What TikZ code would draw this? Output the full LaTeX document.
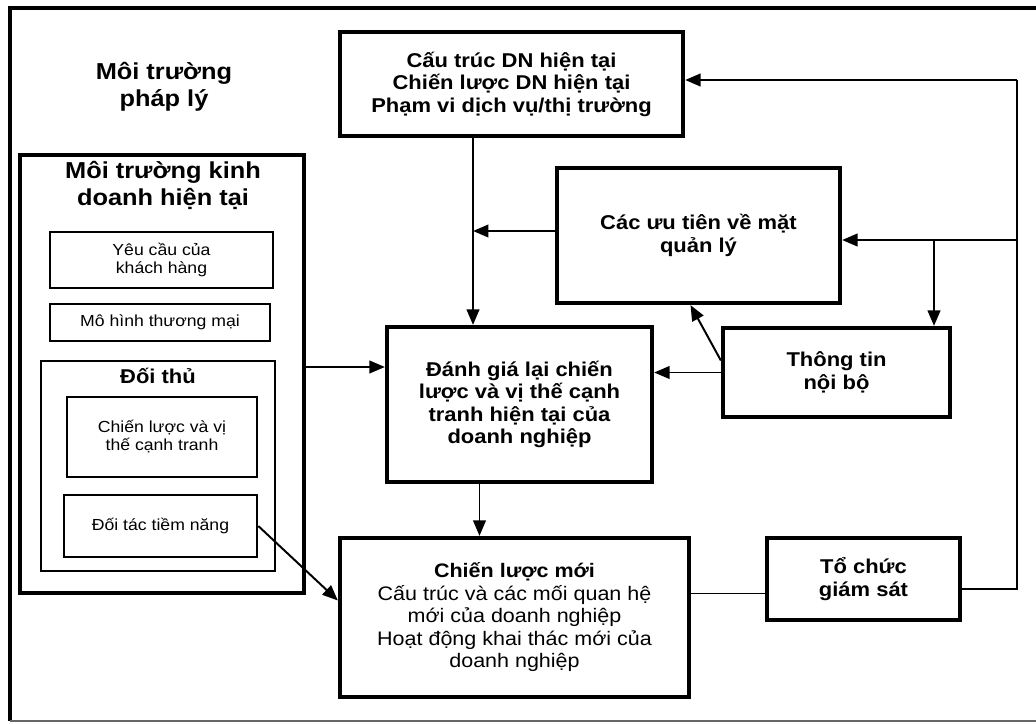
\documentclass[tikz,border=0pt]{standalone}
\usepackage{fontspec}
\setmainfont[FakeStretch=1.1]{Liberation Sans}
\usetikzlibrary{arrows.meta, positioning, calc}
\newcommand{\titlefont}{\fontsize{16.4pt}{19.2pt}\selectfont\bfseries}
\newcommand{\boxfont}{\fontsize{14.2pt}{16pt}\selectfont\bfseries}
\newcommand{\smallfont}{\fontsize{11.4pt}{12.8pt}\selectfont}
\newcommand{\plainfont}{\fontsize{13.9pt}{16pt}\selectfont}

\begin{document}
\begin{tikzpicture}[x=0.025cm, y=-0.025cm,
    bigbox/.style={draw, line width=3pt, align=center, inner sep=0pt, font=\boxfont},
    thinbox/.style={draw, line width=1.8pt, align=center, inner sep=0pt, font=\smallfont},
    conn/.style={line width=1.4pt, -{Triangle[length=11pt,width=9pt]}},
    link/.style={line width=1.4pt}]
    \useasboundingbox (0,0) rectangle (1036,723);

    % Outer frame
    \draw[line width=2.2pt] (1036,8) -- (10,8) -- (10,721);
    \draw[line width=1.5pt, black!60] (10,721) -- (1036,721);

    % Legal environment
    \node[font=\titlefont, align=center] (legal) at (164,86.5) {Môi trường\\pháp lý};

    % Right-hand column
    \node[bigbox, minimum width=8.575cm, minimum height=2.6cm] (cur) at (511.5,84)
        {Cấu trúc DN hiện tại\\Chiến lược DN hiện tại\\Phạm vi dịch vụ/thị trường};
    \node[bigbox, minimum width=7.075cm, minimum height=3.375cm] (prio) at (698.5,235.5)
        {Các ưu tiên về mặt\\quản lý};
    \node[bigbox, minimum width=5.675cm, minimum height=2.225cm] (info) at (836.5,372.5)
        {Thông tin\\nội bộ};
    \node[bigbox, minimum width=6.625cm, minimum height=3.875cm] (review) at (519.5,404.5)
        {Đánh giá lại chiến\\lược và vị thế cạnh\\tranh hiện tại của\\doanh nghiệp};
    \node[bigbox, font=\plainfont, minimum width=8.725cm, minimum height=3.975cm] (new) at (514.5,617.5)
        {\textbf{Chiến lược mới}\\Cấu trúc và các mối quan hệ\\mới của doanh nghiệp\\Hoạt động khai thác mới của\\doanh nghiệp};
    \node[bigbox, minimum width=4.825cm, minimum height=2.05cm] (mon) at (863.5,579)
        {Tổ chức\\giám sát};

    % Business environment
    \node[draw, line width=3pt, minimum width=7.1cm, minimum height=10.95cm] (env) at (162,374) {};
    \node[font=\titlefont, align=center] (envtitle) at (163,185) {Môi trường kinh\\doanh hiện tại};
    \node[thinbox, minimum width=5.575cm, minimum height=1.4cm] (cust) at (161.5,260) {Yêu cầu của\\ khách hàng};
    \node[thinbox, minimum width=5.5cm, minimum height=0.925cm] (model) at (160,322.5) {Mô hình thương mại};
    \node[draw, line width=1.8pt, minimum width=5.85cm, minimum height=5.25cm] (rival) at (158,466) {};
    \node[font=\boxfont] (rivaltitle) at (158,376) {Đối thủ};
    \node[thinbox, minimum width=4.75cm, minimum height=2cm] (pos) at (162,437) {Chiến lược và vị\\thế cạnh tranh};
    \node[thinbox, minimum width=4.825cm, minimum height=1.55cm] (part) at (160.5,526) {Đối tác tiềm năng};

    % Connectors
    \coordinate (jn) at (473,231);
    \coordinate (fb) at (1017,80);
    \coordinate (br) at (1017,240);
    \coordinate (tap) at (934,240);
    \draw[conn] (jn |- cur.south) -- (jn |- review.north);
    \draw[conn] (prio.west |- jn) -- (jn);
    \draw[conn] (info.west) -- (info.west -| review.east);
    \draw[conn] ([yshift=0.3cm]info.west) -- ([xshift=-0.2cm]prio.south);
    \draw[link] ([yshift=-0.25cm]mon.east) -| (fb);
    \draw[conn] (fb) -- (fb -| cur.east);
    \draw[conn] (br) -- (br -| prio.east);
    \draw[conn] (tap) -- (tap |- info.north);
    \draw[conn] ([yshift=0.175cm]env.east) -- ([yshift=0.175cm]env.east -| review.west);
    \draw[conn] ([xshift=-1cm]review.south) -- ([xshift=-1cm]review.south |- new.north);
    \draw[conn] (part.east) -- ([yshift=0.425cm]new.west);
    \draw[link] ([yshift=0.6cm]new.east) -- ([yshift=0.6cm]new.east -| mon.west);
\end{tikzpicture}
\end{document}
